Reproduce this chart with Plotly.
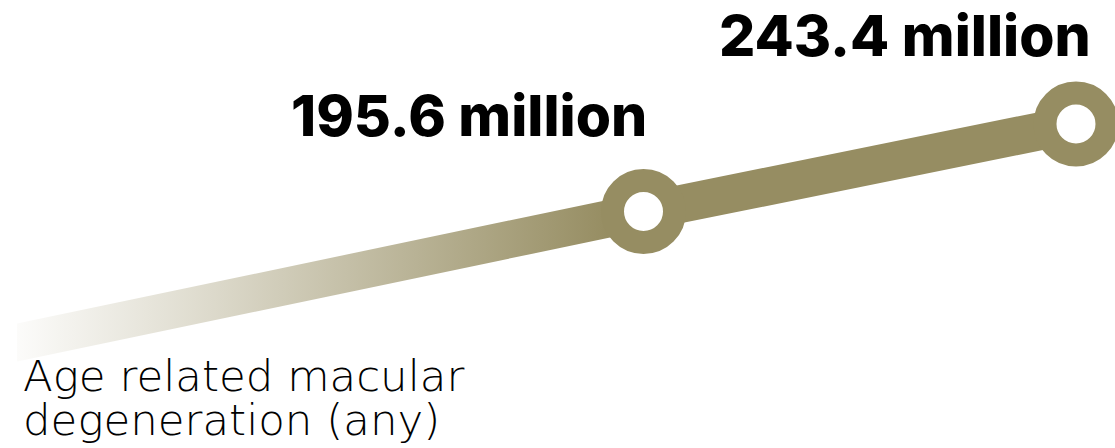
import plotly.graph_objects as go

# ---- data ----
years = [2005, 2020, 2030]
amd_millions = [121.5, 195.6, 243.4]          # people with AMD (millions)
labelled_years = [2020, 2030]
labelled_values = [195.6, 243.4]
title_lines = ["Age related macular", "degeneration (any)"]

OLIVE = "rgb(150,141,98)"
half_band = 10.4  # half line thickness in value units (~19 px)

fig = go.Figure()

# gradient tail (first segment) drawn as a filled band with a horizontal gradient
x0, x1 = years[0], years[1]
v0, v1 = amd_millions[0], amd_millions[1]
fig.add_trace(go.Scatter(
    x=[x0, x1, x1, x0, x0],
    y=[v0 + half_band, v1 + half_band, v1 - half_band, v0 - half_band, v0 + half_band],
    mode="lines", line=dict(width=0), fill="toself",
    fillgradient=dict(type="horizontal",
                      colorscale=[[0, "rgba(150,141,98,0.03)"], [0.3, "rgba(150,141,98,0.3)"],
                                  [1, "rgba(150,141,98,1)"]],
                      start=2005.5, stop=2019.2),
    hoverinfo="skip", showlegend=False))

# solid segment between labelled points
fig.add_trace(go.Scatter(
    x=years[1:], y=amd_millions[1:], mode="lines",
    line=dict(color=OLIVE, width=38), hoverinfo="skip", showlegend=False))

# ring markers
fig.add_trace(go.Scatter(
    x=labelled_years, y=labelled_values, mode="markers",
    marker=dict(symbol="circle", size=62, color="white", line=dict(color=OLIVE, width=23)),
    cliponaxis=False, hoverinfo="skip", showlegend=False))

annotations = []
shifts = [(4, 96), (16, 89)]
for yr, val, (dx, dy) in zip(labelled_years, labelled_values, shifts):
    annotations.append(dict(
        x=yr, y=val, xref="x", yref="y", text=f"{val} million", showarrow=False,
        xanchor="right", yanchor="middle", xshift=dx, yshift=dy, borderpad=0,
        font=dict(family="Inter", size=57, color="black", weight=800)))

for i, line in enumerate(title_lines):
    annotations.append(dict(
        x=0.0045, y=[0.160, 0.062][i], xref="paper", yref="paper", text=line,
        showarrow=False, xanchor="left", yanchor="middle", borderpad=0,
        font=dict(family="DejaVu Sans", size=43.5, color="black", weight=200)))

fig.update_layout(
    width=1115, height=448,
    margin=dict(l=17, r=0, t=0, b=0),
    paper_bgcolor="white", plot_bgcolor="white",
    xaxis=dict(range=[2005.514, 2030.902], visible=False, fixedrange=True),
    yaxis=dict(range=[66.4, 311.14], visible=False, fixedrange=True),
    annotations=annotations,
    showlegend=False,
)

fig.write_html("out.html")
